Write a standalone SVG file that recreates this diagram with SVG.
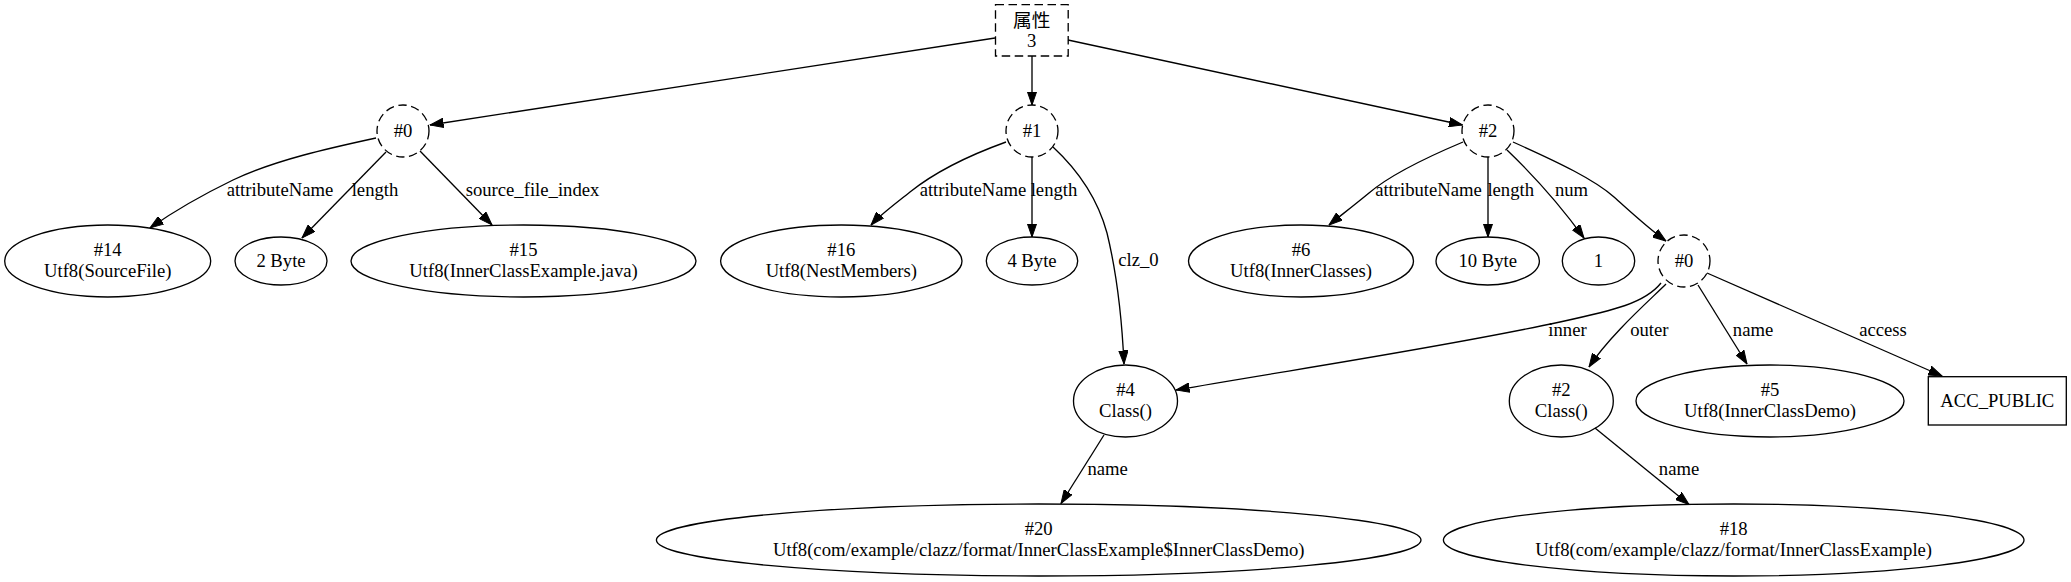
<svg xmlns="http://www.w3.org/2000/svg" width="2071" height="582" viewBox="0 0 2071 582">
<style>
text{font-family:"Liberation Serif","Noto Sans CJK SC",serif;font-size:18.67px;fill:#000;text-anchor:middle}
.n{fill:none;stroke:#000;stroke-width:1.33}
.d{fill:none;stroke:#000;stroke-width:1.33;stroke-dasharray:8.5,4.5}
.e{fill:none;stroke:#000;stroke-width:1.33;marker-end:url(#ah)}
</style>
<defs>
<marker id="ah" markerUnits="userSpaceOnUse" markerWidth="14" markerHeight="10" viewBox="0 0 14 10" refX="13.5" refY="5" orient="auto">
<path d="M0,0.3 L13.5,5 L0,9.7 Z" fill="#000" stroke="#000" stroke-width="1"/>
</marker>
</defs>
<rect width="2071" height="582" fill="#fff"/>
<g id="connectors">
<path class="e" d="M995,38 L430,125"/>
<path class="e" d="M1032,56 L1032,105"/>
<path class="e" d="M1068,40 L1462.5,125"/>
<path class="e" d="M376,138 C330,148 275,160 233,180 C200,196 170,214 150,228"/>
<path class="e" d="M386,152 L302,238"/>
<path class="e" d="M420,151 L492,225"/>
<path class="e" d="M1006,142 C970,155 935,172 910,192 C895,204 880,215 871,225"/>
<path class="e" d="M1032,157 L1032,237"/>
<path class="e" d="M1053,147 C1080,172 1098,200 1107,233 C1116,270 1122,320 1124,364"/>
<path class="e" d="M1463,142 C1425,158 1390,175 1369,193 C1352,207 1340,216 1329,225"/>
<path class="e" d="M1488,157 L1488,237"/>
<path class="e" d="M1507,150 C1530,172 1560,205 1584,238"/>
<path class="e" d="M1513,142 C1560,163 1595,180 1614,197 C1632,213 1648,228 1666,241"/>
<path class="e" d="M1661,283 C1645,303 1615,310 1560,322 C1440,348 1290,370 1176,390"/>
<path class="e" d="M1666,284 C1650,300 1610,335 1589,367"/>
<path class="e" d="M1698,285 L1747,364"/>
<path class="e" d="M1707,273 L1942,376"/>
<path class="e" d="M1104,435 L1061,503.5"/>
<path class="e" d="M1595,428 L1689,504.5"/>
<text x="280" y="196">attributeName</text>
<text x="375" y="196">length</text>
<text x="532.5" y="196">source_file_index</text>
<text x="973" y="196">attributeName</text>
<text x="1054" y="196">length</text>
<text x="1138.5" y="266">clz_0</text>
<text x="1428.5" y="196">attributeName</text>
<text x="1510.7" y="196">length</text>
<text x="1571.5" y="196">num</text>
<text x="1567.5" y="336">inner</text>
<text x="1649.3" y="336">outer</text>
<text x="1753" y="336">name</text>
<text x="1883" y="336">access</text>
<text x="1107.7" y="475">name</text>
<text x="1679" y="475">name</text>
</g>
<g id="attrs"><rect class="d" x="995.5" y="4.7" width="72.7" height="51.3"/><text x="1031.7" y="26.5">属性</text><text x="1031.7" y="46.5">3</text></g>
<g id="a0"><circle class="d" cx="403" cy="131" r="26"/><text x="403" y="137">#0</text></g>
<g id="a1"><circle class="d" cx="1032" cy="131" r="26"/><text x="1032" y="137">#1</text></g>
<g id="a2"><circle class="d" cx="1488" cy="131" r="26"/><text x="1488" y="137">#2</text></g>
<g id="c14"><ellipse class="n" cx="107.7" cy="261" rx="103" ry="36"/><text x="107.7" y="256">#14</text><text x="107.7" y="277">Utf8(SourceFile)</text></g>
<g id="len0"><ellipse class="n" cx="281" cy="261" rx="46" ry="24"/><text x="281" y="267">2 Byte</text></g>
<g id="c15"><ellipse class="n" cx="523.5" cy="261" rx="172.5" ry="36"/><text x="523.5" y="256">#15</text><text x="523.5" y="277">Utf8(InnerClassExample.java)</text></g>
<g id="c16"><ellipse class="n" cx="841.3" cy="261" rx="120.7" ry="36"/><text x="841.3" y="256">#16</text><text x="841.3" y="277">Utf8(NestMembers)</text></g>
<g id="len1"><ellipse class="n" cx="1032" cy="261" rx="45.7" ry="24"/><text x="1032" y="267">4 Byte</text></g>
<g id="c6"><ellipse class="n" cx="1301" cy="261" rx="112.5" ry="36"/><text x="1301" y="256">#6</text><text x="1301" y="277">Utf8(InnerClasses)</text></g>
<g id="len2"><ellipse class="n" cx="1487.7" cy="261" rx="51.7" ry="24"/><text x="1487.7" y="267">10 Byte</text></g>
<g id="num"><ellipse class="n" cx="1598.5" cy="261" rx="36.2" ry="24"/><text x="1598.5" y="267">1</text></g>
<g id="ic0"><circle class="d" cx="1684" cy="261" r="26"/><text x="1684" y="267">#0</text></g>
<g id="c4"><ellipse class="n" cx="1125.5" cy="401" rx="52" ry="36"/><text x="1125.5" y="396">#4</text><text x="1125.5" y="417">Class()</text></g>
<g id="c2"><ellipse class="n" cx="1561.3" cy="401" rx="52" ry="36"/><text x="1561.3" y="396">#2</text><text x="1561.3" y="417">Class()</text></g>
<g id="c5"><ellipse class="n" cx="1770" cy="401" rx="134" ry="36"/><text x="1770" y="396">#5</text><text x="1770" y="417">Utf8(InnerClassDemo)</text></g>
<g id="acc"><rect class="n" x="1928.3" y="376.7" width="138" height="48.3"/><text x="1997.3" y="407">ACC_PUBLIC</text></g>
<g id="c20"><ellipse class="n" cx="1038.7" cy="540" rx="382.3" ry="36"/><text x="1038.7" y="535">#20</text><text x="1038.7" y="556">Utf8(com/example/clazz/format/InnerClassExample$InnerClassDemo)</text></g>
<g id="c18"><ellipse class="n" cx="1733.7" cy="540" rx="290.3" ry="36"/><text x="1733.7" y="535">#18</text><text x="1733.7" y="556">Utf8(com/example/clazz/format/InnerClassExample)</text></g>
</svg>
